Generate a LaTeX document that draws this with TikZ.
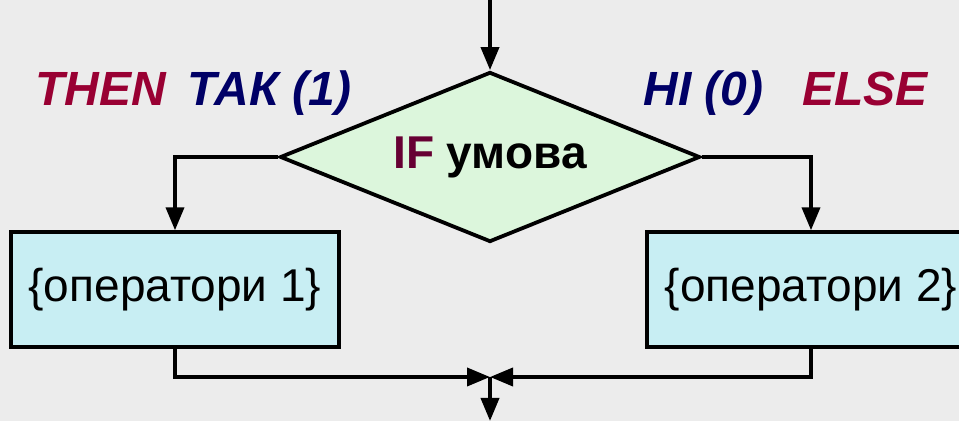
\documentclass[tikz,border=0pt]{standalone}
\usepackage{fontspec}
\setmainfont{Liberation Sans}
\usetikzlibrary{shapes.geometric, arrows.meta}
\definecolor{BgGrey}{RGB}{236,236,236}
\definecolor{CondGreen}{RGB}{220,246,220}
\definecolor{OpsCyan}{RGB}{200,238,243}
\definecolor{KeyRed}{RGB}{153,0,51}
\definecolor{KeyNavy}{RGB}{0,0,102}
\definecolor{IfRed}{RGB}{102,0,51}

\begin{document}
\begin{tikzpicture}[x=0.5pt, y=-0.5pt,
  cond/.style={%
    diamond, aspect=2.47, draw=black, line width=1.9pt,
    fill=CondGreen, inner sep=0pt,
    minimum width=210pt, minimum height=85pt,
    font=\fontsize{23}{27}\selectfont\bfseries},
  ops/.style={%
    rectangle, draw=black, line width=1.7pt,
    fill=OpsCyan, inner sep=0pt,
    minimum width=164pt, minimum height=57.5pt,
    font=\fontsize{23}{27}\selectfont},
  lbl/.style={anchor=base west, inner sep=0pt,
    font=\fontsize{24}{29}\selectfont\bfseries\itshape},
  arr/.style={-{Triangle[length=11.5pt, width=9pt]}, line width=1.9pt}
]
\useasboundingbox (0,0) rectangle (959,421);
\clip (0,0) rectangle (959,421);
\fill[BgGrey] (0,0) rectangle (959,421);

\node[cond] (cond) at (490,157) {\textcolor{IfRed}{IF} умова};
\node[ops] (ops1) at (175,289.5) {\{оператори 1\}};
\node[ops] (ops2) at (811,289.5) {\{оператори 2\}};

\node[lbl, text=KeyRed]  (thenlbl) at (35,106)  {THEN};
\node[lbl, text=KeyNavy] (taklbl)  at (187,106) {ТАК (1)};
\node[lbl, text=KeyNavy] (nilbl)   at (643,106) {НІ (0)};
\node[lbl, text=KeyRed]  (elselbl) at (802,106) {ELSE};

\coordinate (entry) at (490,0);
\coordinate (join)  at (490,377);
\coordinate (exit)  at (490,421);

\draw[arr] (entry) -- (cond.north);
\draw[arr] (cond.west) -| (ops1.north);
\draw[arr] (cond.east) -| (ops2.north);
\draw[arr] (ops1.south) |- (join);
\draw[arr] (ops2.south) |- (join);
\draw[arr] (join) -- (exit);
\end{tikzpicture}
\end{document}
